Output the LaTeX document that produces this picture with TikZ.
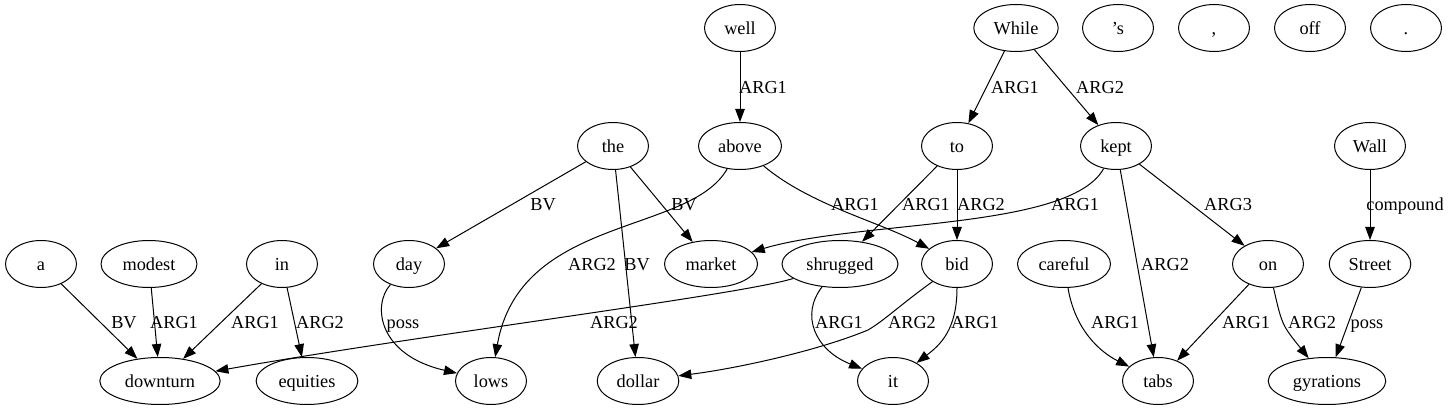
\documentclass[tikz,border=0pt]{standalone}
\usepackage{fontspec}
\setmainfont{Liberation Serif}
\usetikzlibrary{shapes.geometric,arrows.meta}
\begin{document}
\begin{tikzpicture}[x=1pt,y=-1pt,
  word/.style={draw, ellipse, line width=1pt, inner xsep=7.5pt, inner ysep=0pt,
    minimum width=71pt, minimum height=47pt,
    font=\fontsize{18.3}{22}\selectfont, text height=13pt, text depth=0pt},
  lbl/.style={font=\fontsize{18.3}{22}\selectfont, inner sep=0pt, text height=13pt, text depth=0pt},
  e/.style={-{Triangle[length=13pt,width=9.5pt]}, line width=1pt}]
\useasboundingbox (0,0) rectangle (1451,411);
% row 1
\node[word] (well) at (740,28) {well};
\node[word] (While) at (1016,28) {While};
\node[word] (s) at (1118,28) {’s};
\node[word] (comma) at (1214,28) {,};
\node[word] (off) at (1310,28) {off};
\node[word] (dot) at (1406,28) {.};
% row 2
\node[word] (the) at (613,146) {the};
\node[word] (above) at (740,146) {above};
\node[word] (to) at (957,146) {to};
\node[word] (kept) at (1116,146) {kept};
\node[word] (Wall) at (1370,146) {Wall};
% row 3
\node[word] (a) at (41,264) {a};
\node[word] (modest) at (149,264) {modest};
\node[word] (in) at (282,264) {in};
\node[word] (day) at (409,264) {day};
\node[word] (market) at (711,264) {market};
\node[word] (shrugged) at (840,264) {shrugged};
\node[word] (bid) at (957,264) {bid};
\node[word] (careful) at (1064,264) {careful};
\node[word] (on) at (1268,264) {on};
\node[word] (Street) at (1370,264) {Street};
% row 4
\node[word] (downturn) at (160,381) {downturn};
\node[word] (equities) at (307,381) {equities};
\node[word] (lows) at (491,381) {lows};
\node[word] (dollar) at (638,381) {dollar};
\node[word] (it) at (893,381) {it};
\node[word] (tabs) at (1158,381) {tabs};
\node[word] (gyrations) at (1327,381) {gyrations};
% edges
\draw[e] (a) -- (downturn);
\draw[e] (modest) -- (downturn);
\draw[e] (in) -- (downturn);
\draw[e] (in) -- (equities);
\draw[e] (day) .. controls (372,305) and (378,355) .. (lows);
\draw[e] (the) -- (day);
\draw[e] (the) -- (dollar);
\draw[e] (the) -- (market);
\draw[e] (well) -- (above);
\draw[e] (above) .. controls (690,235) and (520,215) .. (lows);
\draw[e] (above) .. controls (810,205) and (880,222) .. (bid);
\draw[e] (While) -- (to);
\draw[e] (While) -- (kept);
\draw[e] (to) -- (shrugged);
\draw[e] (to) -- (bid);
\draw[e] (kept) .. controls (1070,230) and (860,220) .. (market);
\draw[e] (kept) -- (tabs);
\draw[e] (kept) -- (on);
\draw[e] (Wall) -- (Street);
\draw[e] (shrugged) .. controls (740,295) and (420,335) .. (downturn);
\draw[e] (shrugged) .. controls (800,315) and (815,350) .. (it);
\draw[e] (bid) .. controls (900,305) and (885,320) .. (868,330) .. controls (820,350) and (740,368) .. (dollar);
\draw[e] (bid) .. controls (957,330) and (940,345) .. (it);
\draw[e] (careful) .. controls (1075,330) and (1100,352) .. (tabs);
\draw[e] (on) -- (tabs);
\draw[e] (on) .. controls (1282,325) .. (gyrations);
\draw[e] (Street) -- (gyrations);
% edge labels
\node[lbl] (l1) at (124,322) {BV};
\node[lbl] (l2) at (174,322) {ARG1};
\node[lbl] (l3) at (255,322) {ARG1};
\node[lbl] (l4) at (320,322) {ARG2};
\node[lbl] (l5) at (403,322) {poss};
\node[lbl] (l6) at (614,322) {ARG2};
\node[lbl] (l7) at (839,322) {ARG1};
\node[lbl] (l8) at (912,322) {ARG2};
\node[lbl] (l9) at (975,322) {ARG1};
\node[lbl] (l10) at (1115,322) {ARG1};
\node[lbl] (l11) at (1246,322) {ARG1};
\node[lbl] (l12) at (1312,322) {ARG2};
\node[lbl] (l13) at (1367,322) {poss};
\node[lbl] (l14) at (592,264) {ARG2};
\node[lbl] (l15) at (637,264) {BV};
\node[lbl] (l16) at (1165,264) {ARG2};
\node[lbl] (l17) at (543,204) {BV};
\node[lbl] (l18) at (684,204) {BV};
\node[lbl] (l19) at (855,204) {ARG1};
\node[lbl] (l20) at (926,204) {ARG1};
\node[lbl] (l21) at (981,204) {ARG2};
\node[lbl] (l22) at (1075,204) {ARG1};
\node[lbl] (l23) at (1228,204) {ARG3};
\node[lbl] (l24) at (1405,204) {compound};
\node[lbl] (l25) at (763,87) {ARG1};
\node[lbl] (l26) at (1015,87) {ARG1};
\node[lbl] (l27) at (1100,87) {ARG2};
\end{tikzpicture}
\end{document}
